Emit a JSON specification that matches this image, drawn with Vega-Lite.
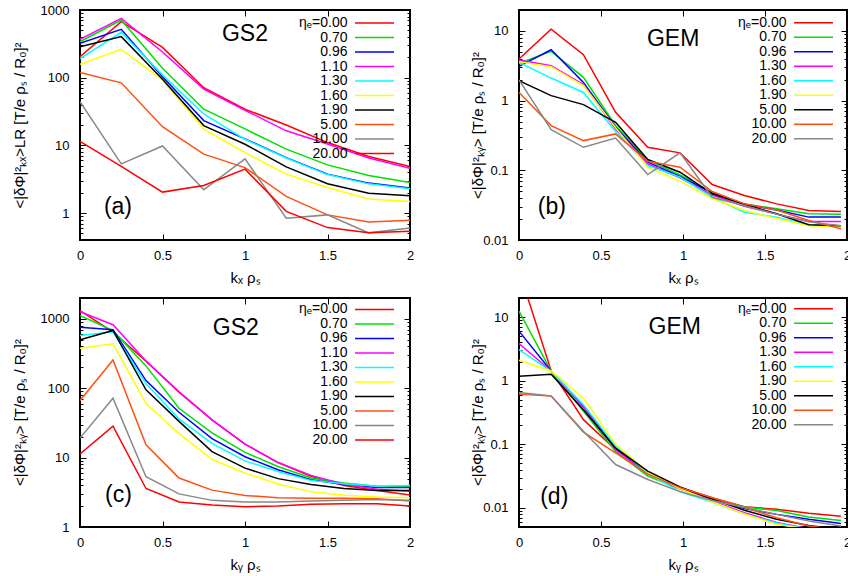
{
"$schema": "https://vega.github.io/schema/vega-lite/v6.json",
"padding": {"left": 11, "top": 3, "right": 0, "bottom": 0},
"columns": 2,
"spacing": {"row": 10, "column": 54},
"config": {
  "font": "Liberation Sans",
  "view": {"stroke": "#000", "strokeWidth": 2},
  "axis": {"labelFontSize": 13, "titleFontSize": 15, "labelColor": "#000", "titleColor": "#000", "tickColor": "#000", "tickWidth": 1, "titleFontWeight": "normal", "grid": false, "domain": false, "labelFlush": false},
  "text": {"font": "Liberation Sans"}
},
"resolve": {"scale": {"color": "independent"}, "legend": {"color": "independent"}},
"datasets": {
"a": [
{"e":"ηₑ=0.00","k":0,"v":204},{"e":"ηₑ=0.00","k":0.25,"v":672},{"e":"ηₑ=0.00","k":0.5,"v":280},{"e":"ηₑ=0.00","k":0.75,"v":71},{"e":"ηₑ=0.00","k":1,"v":34.2},{"e":"ηₑ=0.00","k":1.25,"v":20},{"e":"ηₑ=0.00","k":1.5,"v":11},{"e":"ηₑ=0.00","k":1.75,"v":6.84},{"e":"ηₑ=0.00","k":2,"v":4.87},
{"e":"0.70","k":0,"v":340},{"e":"0.70","k":0.25,"v":711},{"e":"0.70","k":0.5,"v":138},{"e":"0.70","k":0.75,"v":34.2},{"e":"0.70","k":1,"v":17.5},{"e":"0.70","k":1.25,"v":8.8},{"e":"0.70","k":1.5,"v":5.15},{"e":"0.70","k":1.75,"v":3.59},{"e":"0.70","k":2,"v":2.83},
{"e":"0.96","k":0,"v":322},{"e":"0.96","k":0.25,"v":518},{"e":"0.96","k":0.5,"v":103},{"e":"0.96","k":0.75,"v":23.2},{"e":"0.96","k":1,"v":12.5},{"e":"0.96","k":1.25,"v":6.6},{"e":"0.96","k":1.5,"v":3.76},{"e":"0.96","k":1.75,"v":2.77},{"e":"0.96","k":2,"v":2.34},
{"e":"1.10","k":0,"v":368},{"e":"1.10","k":0.25,"v":752},{"e":"1.10","k":0.5,"v":240},{"e":"1.10","k":0.75,"v":68},{"e":"1.10","k":1,"v":33},{"e":"1.10","k":1.25,"v":16.4},{"e":"1.10","k":1.5,"v":10.5},{"e":"1.10","k":1.75,"v":6.5},{"e":"1.10","k":2,"v":4.6},
{"e":"1.30","k":0,"v":191},{"e":"1.30","k":0.25,"v":468},{"e":"1.30","k":0.5,"v":110},{"e":"1.30","k":0.75,"v":29.1},{"e":"1.30","k":1,"v":12.3},{"e":"1.30","k":1.25,"v":6.5},{"e":"1.30","k":1.5,"v":3.7},{"e":"1.30","k":1.75,"v":2.7},{"e":"1.30","k":2,"v":2.28},
{"e":"1.60","k":0,"v":158},{"e":"1.60","k":0.25,"v":262},{"e":"1.60","k":0.5,"v":92},{"e":"1.60","k":0.75,"v":17.3},{"e":"1.60","k":1,"v":7.8},{"e":"1.60","k":1.25,"v":3.76},{"e":"1.60","k":1.5,"v":2.39},{"e":"1.60","k":1.75,"v":1.61},{"e":"1.60","k":2,"v":1.48},
{"e":"1.90","k":0,"v":287},{"e":"1.90","k":0.25,"v":404},{"e":"1.90","k":0.5,"v":95},{"e":"1.90","k":0.75,"v":19.6},{"e":"1.90","k":1,"v":10.4},{"e":"1.90","k":1.25,"v":4.82},{"e":"1.90","k":1.5,"v":2.71},{"e":"1.90","k":1.75,"v":1.97},{"e":"1.90","k":2,"v":1.8},
{"e":"5.00","k":0,"v":119},{"e":"5.00","k":0.25,"v":84},{"e":"5.00","k":0.5,"v":18.9},{"e":"5.00","k":0.75,"v":7.41},{"e":"5.00","k":1,"v":4.7},{"e":"5.00","k":1.25,"v":1.76},{"e":"5.00","k":1.5,"v":0.94},{"e":"5.00","k":1.75,"v":0.74},{"e":"5.00","k":2,"v":0.78},
{"e":"10.00","k":0,"v":44.4},{"e":"10.00","k":0.25,"v":5.34},{"e":"10.00","k":0.5,"v":9.8},{"e":"10.00","k":0.75,"v":2.21},{"e":"10.00","k":1,"v":6.32},{"e":"10.00","k":1.25,"v":0.84},{"e":"10.00","k":1.5,"v":0.94},{"e":"10.00","k":1.75,"v":0.51},{"e":"10.00","k":2,"v":0.6},
{"e":"20.00","k":0,"v":11.5},{"e":"20.00","k":0.25,"v":4.9},{"e":"20.00","k":0.5,"v":2.04},{"e":"20.00","k":0.75,"v":2.56},{"e":"20.00","k":1,"v":4.46},{"e":"20.00","k":1.25,"v":1.06},{"e":"20.00","k":1.5,"v":0.61},{"e":"20.00","k":1.75,"v":0.51},{"e":"20.00","k":2,"v":0.54}
],
"b": [
{"e":"ηₑ=0.00","k":0,"v":3.96},{"e":"ηₑ=0.00","k":0.196,"v":10.6},{"e":"ηₑ=0.00","k":0.393,"v":4.56},{"e":"ηₑ=0.00","k":0.589,"v":0.68},{"e":"ηₑ=0.00","k":0.785,"v":0.214},{"e":"ηₑ=0.00","k":0.982,"v":0.178},{"e":"ηₑ=0.00","k":1.178,"v":0.0626},{"e":"ηₑ=0.00","k":1.374,"v":0.0435},{"e":"ηₑ=0.00","k":1.571,"v":0.033},{"e":"ηₑ=0.00","k":1.767,"v":0.0265},{"e":"ηₑ=0.00","k":1.963,"v":0.0257},
{"e":"0.70","k":0,"v":3.45},{"e":"0.70","k":0.196,"v":5.09},{"e":"0.70","k":0.393,"v":2.16},{"e":"0.70","k":0.589,"v":0.437},{"e":"0.70","k":0.785,"v":0.14},{"e":"0.70","k":0.982,"v":0.086},{"e":"0.70","k":1.178,"v":0.048},{"e":"0.70","k":1.374,"v":0.033},{"e":"0.70","k":1.571,"v":0.028},{"e":"0.70","k":1.767,"v":0.0238},{"e":"0.70","k":1.963,"v":0.0235},
{"e":"0.96","k":0,"v":3.1},{"e":"0.96","k":0.196,"v":5.38},{"e":"0.96","k":0.393,"v":1.83},{"e":"0.96","k":0.589,"v":0.415},{"e":"0.96","k":0.785,"v":0.131},{"e":"0.96","k":0.982,"v":0.082},{"e":"0.96","k":1.178,"v":0.047},{"e":"0.96","k":1.374,"v":0.0325},{"e":"0.96","k":1.571,"v":0.027},{"e":"0.96","k":1.767,"v":0.0213},{"e":"0.96","k":1.963,"v":0.0213},
{"e":"1.30","k":0,"v":3.83},{"e":"1.30","k":0.196,"v":3.17},{"e":"1.30","k":0.393,"v":1.7},{"e":"1.30","k":0.589,"v":0.393},{"e":"1.30","k":0.785,"v":0.124},{"e":"1.30","k":0.982,"v":0.078},{"e":"1.30","k":1.178,"v":0.044},{"e":"1.30","k":1.374,"v":0.0305},{"e":"1.30","k":1.571,"v":0.0235},{"e":"1.30","k":1.767,"v":0.0185},{"e":"1.30","k":1.963,"v":0.0185},
{"e":"1.60","k":0,"v":3.54},{"e":"1.60","k":0.196,"v":2.11},{"e":"1.60","k":0.393,"v":1.31},{"e":"1.60","k":0.589,"v":0.36},{"e":"1.60","k":0.785,"v":0.117},{"e":"1.60","k":0.982,"v":0.08},{"e":"1.60","k":1.178,"v":0.041},{"e":"1.60","k":1.374,"v":0.025},{"e":"1.60","k":1.571,"v":0.0213},{"e":"1.60","k":1.767,"v":0.0164},{"e":"1.60","k":1.963,"v":0.016},
{"e":"1.90","k":0,"v":3.62},{"e":"1.90","k":0.196,"v":3.07},{"e":"1.90","k":0.393,"v":1.64},{"e":"1.90","k":0.589,"v":0.41},{"e":"1.90","k":0.785,"v":0.11},{"e":"1.90","k":0.982,"v":0.07},{"e":"1.90","k":1.178,"v":0.039},{"e":"1.90","k":1.374,"v":0.0265},{"e":"1.90","k":1.571,"v":0.0203},{"e":"1.90","k":1.767,"v":0.016},{"e":"1.90","k":1.963,"v":0.0155},
{"e":"5.00","k":0,"v":1.93},{"e":"5.00","k":0.196,"v":1.18},{"e":"5.00","k":0.393,"v":0.877},{"e":"5.00","k":0.589,"v":0.489},{"e":"5.00","k":0.785,"v":0.143},{"e":"5.00","k":0.982,"v":0.094},{"e":"5.00","k":1.178,"v":0.046},{"e":"5.00","k":1.374,"v":0.0325},{"e":"5.00","k":1.571,"v":0.0238},{"e":"5.00","k":1.767,"v":0.0166},{"e":"5.00","k":1.963,"v":0.016},
{"e":"10.00","k":0,"v":1.31},{"e":"10.00","k":0.196,"v":0.438},{"e":"10.00","k":0.393,"v":0.267},{"e":"10.00","k":0.589,"v":0.333},{"e":"10.00","k":0.785,"v":0.135},{"e":"10.00","k":0.982,"v":0.111},{"e":"10.00","k":1.178,"v":0.0497},{"e":"10.00","k":1.374,"v":0.033},{"e":"10.00","k":1.571,"v":0.027},{"e":"10.00","k":1.767,"v":0.019},{"e":"10.00","k":1.963,"v":0.0145},
{"e":"20.00","k":0,"v":1.98},{"e":"20.00","k":0.196,"v":0.384},{"e":"20.00","k":0.393,"v":0.214},{"e":"20.00","k":0.589,"v":0.291},{"e":"20.00","k":0.785,"v":0.087},{"e":"20.00","k":0.982,"v":0.178},{"e":"20.00","k":1.178,"v":0.041},{"e":"20.00","k":1.374,"v":0.031},{"e":"20.00","k":1.571,"v":0.0235},{"e":"20.00","k":1.767,"v":0.0182},{"e":"20.00","k":1.963,"v":0.016}
],
"c": [
{"e":"ηₑ=0.00","k":0,"v":1318},{"e":"ηₑ=0.00","k":0.2,"v":647},{"e":"ηₑ=0.00","k":0.4,"v":245},{"e":"ηₑ=0.00","k":0.6,"v":88},{"e":"ηₑ=0.00","k":0.8,"v":35},{"e":"ηₑ=0.00","k":1,"v":15.7},{"e":"ηₑ=0.00","k":1.2,"v":8.49},{"e":"ηₑ=0.00","k":1.4,"v":5.4},{"e":"ηₑ=0.00","k":1.6,"v":3.96},{"e":"ηₑ=0.00","k":1.8,"v":3.36},{"e":"ηₑ=0.00","k":2,"v":2.88},
{"e":"0.70","k":0,"v":1117},{"e":"0.70","k":0.2,"v":677},{"e":"0.70","k":0.4,"v":210},{"e":"0.70","k":0.6,"v":51.4},{"e":"0.70","k":0.8,"v":22.7},{"e":"0.70","k":1,"v":11.9},{"e":"0.70","k":1.2,"v":7.45},{"e":"0.70","k":1.4,"v":5.08},{"e":"0.70","k":1.6,"v":4.3},{"e":"0.70","k":1.8,"v":3.87},{"e":"0.70","k":2,"v":3.87},
{"e":"0.96","k":0,"v":755},{"e":"0.96","k":0.2,"v":700},{"e":"0.96","k":0.4,"v":129},{"e":"0.96","k":0.6,"v":45.1},{"e":"0.96","k":0.8,"v":18.8},{"e":"0.96","k":1,"v":10.3},{"e":"0.96","k":1.2,"v":6.68},{"e":"0.96","k":1.4,"v":4.8},{"e":"0.96","k":1.6,"v":4.1},{"e":"0.96","k":1.8,"v":3.7},{"e":"0.96","k":2,"v":3.7},
{"e":"1.10","k":0,"v":1274},{"e":"1.10","k":0.2,"v":824},{"e":"1.10","k":0.4,"v":248},{"e":"1.10","k":0.6,"v":88.9},{"e":"1.10","k":0.8,"v":35.1},{"e":"1.10","k":1,"v":15.7},{"e":"1.10","k":1.2,"v":8.49},{"e":"1.10","k":1.4,"v":5.55},{"e":"1.10","k":1.6,"v":4.15},{"e":"1.10","k":1.8,"v":3.5},{"e":"1.10","k":2,"v":3.28},
{"e":"1.30","k":0,"v":575},{"e":"1.30","k":0.2,"v":650},{"e":"1.30","k":0.4,"v":116},{"e":"1.30","k":0.6,"v":36.2},{"e":"1.30","k":0.8,"v":16},{"e":"1.30","k":1,"v":8.97},{"e":"1.30","k":1.2,"v":6.32},{"e":"1.30","k":1.4,"v":4.7},{"e":"1.30","k":1.6,"v":4.2},{"e":"1.30","k":1.8,"v":3.87},{"e":"1.30","k":2,"v":3.95},
{"e":"1.60","k":0,"v":376},{"e":"1.60","k":0.2,"v":437},{"e":"1.60","k":0.4,"v":60},{"e":"1.60","k":0.6,"v":22.2},{"e":"1.60","k":0.8,"v":9.46},{"e":"1.60","k":1,"v":5.98},{"e":"1.60","k":1.2,"v":4.17},{"e":"1.60","k":1.4,"v":3.21},{"e":"1.60","k":1.6,"v":2.88},{"e":"1.60","k":1.8,"v":2.7},{"e":"1.60","k":2,"v":2.64},
{"e":"1.90","k":0,"v":498},{"e":"1.90","k":0.2,"v":680},{"e":"1.90","k":0.4,"v":95},{"e":"1.90","k":0.6,"v":33.3},{"e":"1.90","k":0.8,"v":12.2},{"e":"1.90","k":1,"v":7.05},{"e":"1.90","k":1.2,"v":4.98},{"e":"1.90","k":1.4,"v":4.09},{"e":"1.90","k":1.6,"v":3.59},{"e":"1.90","k":1.8,"v":3.36},{"e":"1.90","k":2,"v":3.36},
{"e":"5.00","k":0,"v":66.8},{"e":"5.00","k":0.2,"v":256},{"e":"5.00","k":0.4,"v":15.3},{"e":"5.00","k":0.6,"v":5.08},{"e":"5.00","k":0.8,"v":3.4},{"e":"5.00","k":1,"v":2.85},{"e":"5.00","k":1.2,"v":2.64},{"e":"5.00","k":1.4,"v":2.6},{"e":"5.00","k":1.6,"v":2.6},{"e":"5.00","k":1.8,"v":2.55},{"e":"5.00","k":2,"v":2.37},
{"e":"10.00","k":0,"v":19.1},{"e":"10.00","k":0.2,"v":72},{"e":"10.00","k":0.4,"v":5.31},{"e":"10.00","k":0.6,"v":3.0},{"e":"10.00","k":0.8,"v":2.42},{"e":"10.00","k":1,"v":2.29},{"e":"10.00","k":1.2,"v":2.29},{"e":"10.00","k":1.4,"v":2.37},{"e":"10.00","k":1.6,"v":2.42},{"e":"10.00","k":1.8,"v":2.5},{"e":"10.00","k":2,"v":2.42},
{"e":"20.00","k":0,"v":11.3},{"e":"20.00","k":0.2,"v":28.5},{"e":"20.00","k":0.4,"v":3.59},{"e":"20.00","k":0.6,"v":2.29},{"e":"20.00","k":0.8,"v":2.08},{"e":"20.00","k":1,"v":1.96},{"e":"20.00","k":1.2,"v":2.01},{"e":"20.00","k":1.4,"v":2.12},{"e":"20.00","k":1.6,"v":2.17},{"e":"20.00","k":1.8,"v":2.17},{"e":"20.00","k":2,"v":2.01}
],
"d": [
{"e":"ηₑ=0.00","k":0,"v":54},{"e":"ηₑ=0.00","k":0.196,"v":1.44},{"e":"ηₑ=0.00","k":0.393,"v":0.244},{"e":"ηₑ=0.00","k":0.589,"v":0.082},{"e":"ηₑ=0.00","k":0.785,"v":0.036},{"e":"ηₑ=0.00","k":0.982,"v":0.021},{"e":"ηₑ=0.00","k":1.178,"v":0.0144},{"e":"ηₑ=0.00","k":1.374,"v":0.0104},{"e":"ηₑ=0.00","k":1.571,"v":0.0095},{"e":"ηₑ=0.00","k":1.767,"v":0.0082},{"e":"ηₑ=0.00","k":1.963,"v":0.0074},
{"e":"0.70","k":0,"v":12.4},{"e":"0.70","k":0.196,"v":1.42},{"e":"0.70","k":0.393,"v":0.33},{"e":"0.70","k":0.589,"v":0.077},{"e":"0.70","k":0.785,"v":0.0315},{"e":"0.70","k":0.982,"v":0.02},{"e":"0.70","k":1.178,"v":0.0142},{"e":"0.70","k":1.374,"v":0.0103},{"e":"0.70","k":1.571,"v":0.0091},{"e":"0.70","k":1.767,"v":0.0072},{"e":"0.70","k":1.963,"v":0.0063},
{"e":"0.96","k":0,"v":6.03},{"e":"0.96","k":0.196,"v":1.42},{"e":"0.96","k":0.393,"v":0.4},{"e":"0.96","k":0.589,"v":0.087},{"e":"0.96","k":0.785,"v":0.035},{"e":"0.96","k":0.982,"v":0.0205},{"e":"0.96","k":1.178,"v":0.0138},{"e":"0.96","k":1.374,"v":0.0098},{"e":"0.96","k":1.571,"v":0.0079},{"e":"0.96","k":1.767,"v":0.0066},{"e":"0.96","k":1.963,"v":0.0057},
{"e":"1.30","k":0,"v":3.83},{"e":"1.30","k":0.196,"v":1.42},{"e":"1.30","k":0.393,"v":0.384},{"e":"1.30","k":0.589,"v":0.082},{"e":"1.30","k":0.785,"v":0.034},{"e":"1.30","k":0.982,"v":0.0197},{"e":"1.30","k":1.178,"v":0.0128},{"e":"1.30","k":1.374,"v":0.0084},{"e":"1.30","k":1.571,"v":0.0059},{"e":"1.30","k":1.767,"v":0.0047},{"e":"1.30","k":1.963,"v":0.0037},
{"e":"1.60","k":0,"v":3.09},{"e":"1.60","k":0.196,"v":1.4},{"e":"1.60","k":0.393,"v":0.418},{"e":"1.60","k":0.589,"v":0.093},{"e":"1.60","k":0.785,"v":0.035},{"e":"1.60","k":0.982,"v":0.0179},{"e":"1.60","k":1.178,"v":0.0123},{"e":"1.60","k":1.374,"v":0.008},{"e":"1.60","k":1.571,"v":0.0058},{"e":"1.60","k":1.767,"v":0.0046},{"e":"1.60","k":1.963,"v":0.0036},
{"e":"1.90","k":0,"v":2.1},{"e":"1.90","k":0.196,"v":1.42},{"e":"1.90","k":0.393,"v":0.53},{"e":"1.90","k":0.589,"v":0.1},{"e":"1.90","k":0.785,"v":0.0365},{"e":"1.90","k":0.982,"v":0.02},{"e":"1.90","k":1.178,"v":0.0125},{"e":"1.90","k":1.374,"v":0.008},{"e":"1.90","k":1.571,"v":0.0055},{"e":"1.90","k":1.767,"v":0.0046},{"e":"1.90","k":1.963,"v":0.0036},
{"e":"5.00","k":0,"v":1.18},{"e":"5.00","k":0.196,"v":1.26},{"e":"5.00","k":0.393,"v":0.35},{"e":"5.00","k":0.589,"v":0.087},{"e":"5.00","k":0.785,"v":0.0377},{"e":"5.00","k":0.982,"v":0.0214},{"e":"5.00","k":1.178,"v":0.0138},{"e":"5.00","k":1.374,"v":0.0092},{"e":"5.00","k":1.571,"v":0.0066},{"e":"5.00","k":1.767,"v":0.0053},{"e":"5.00","k":1.963,"v":0.0045},
{"e":"10.00","k":0,"v":0.62},{"e":"10.00","k":0.196,"v":0.577},{"e":"10.00","k":0.393,"v":0.155},{"e":"10.00","k":0.589,"v":0.073},{"e":"10.00","k":0.785,"v":0.034},{"e":"10.00","k":0.982,"v":0.0208},{"e":"10.00","k":1.178,"v":0.0144},{"e":"10.00","k":1.374,"v":0.0101},{"e":"10.00","k":1.571,"v":0.007},{"e":"10.00","k":1.767,"v":0.0052},{"e":"10.00","k":1.963,"v":0.0044},
{"e":"20.00","k":0,"v":0.65},{"e":"20.00","k":0.196,"v":0.577},{"e":"20.00","k":0.393,"v":0.16},{"e":"20.00","k":0.589,"v":0.048},{"e":"20.00","k":0.785,"v":0.028},{"e":"20.00","k":0.982,"v":0.018},{"e":"20.00","k":1.178,"v":0.0131},{"e":"20.00","k":1.374,"v":0.0101},{"e":"20.00","k":1.571,"v":0.0079},{"e":"20.00","k":1.767,"v":0.0062},{"e":"20.00","k":1.963,"v":0.0052}
],
"lab_a": [{"t":"GS2"}], "lab_b": [{"t":"GEM"}], "pa": [{"t":"(a)"}], "pb": [{"t":"(b)"}], "pc": [{"t":"(c)"}], "pd": [{"t":"(d)"}]
},
"concat": [
{
 "data": {"name": "a"}, "width": 330, "height": 230,
 "resolve": {"axis": {"x": "independent", "y": "independent"}},
 "layer": [
  {"mark": {"type": "line", "clip": true, "strokeWidth": 1.5},
   "encoding": {
    "x": {"field": "k", "type": "quantitative", "scale": {"domain": [0, 2], "nice": false, "zero": false},
      "axis": {"orient": "bottom", "values": [0, 0.5, 1, 1.5, 2], "format": "~g", "title": "kₓ ρₛ", "tickSize": -6, "labelPadding": 15, "titlePadding": 8}},
    "y": {"field": "v", "type": "quantitative", "scale": {"type": "log", "domain": [0.4, 1000], "nice": false},
      "axis": {"orient": "left", "values": [1, 10, 100, 1000], "format": "~g", "title": "<|δΦ|²ₖₓ>LR [T/e ρₛ / R₀]²", "tickSize": -6, "labelPadding": 17, "titleX": -61, "titleY": 115, "titleAngle": 270, "titleBaseline": "middle", "titleAlign": "center"}},
    "color": {"field": "e", "type": "nominal",
      "scale": {"domain": ["ηₑ=0.00","0.70","0.96","1.10","1.30","1.60","1.90","5.00","10.00","20.00"], "range": ["#ff0000","#00e000","#0000ff","#ff00ff","#00ffff","#ffff00","#000000","#ff5014","#888888","#ff0000"]},
      "legend": {"orient": "none", "legendX": 287.5, "legendY": 6, "title": null, "symbolType": "M-3.9,0H3.9", "symbolSize": 100, "symbolStrokeWidth": 1.5, "labelAlign": "right", "labelOffset": -34, "labelFontSize": 14, "rowPadding": 0.5, "padding": 0}}
   }},
  {"mark": {"type": "point", "opacity": 0, "clip": true},
   "encoding": {
    "x": {"field": "k", "type": "quantitative", "scale": {"domain": [0, 2], "nice": false, "zero": false}, "axis": {"orient": "top", "values": [0, 0.5, 1, 1.5, 2], "labels": false, "title": null, "tickSize": -6, "minExtent": 0, "maxExtent": 0}},
    "y": {"field": "v", "type": "quantitative", "scale": {"type": "log", "domain": [0.4, 1000], "nice": false}, "axis": {"orient": "right", "values": [1, 10, 100, 1000], "labels": false, "title": null, "tickSize": -6, "minExtent": 0, "maxExtent": 0}}
   }},
  {"mark": {"type": "point", "opacity": 0, "clip": true},
   "encoding": {
    "x": {"field": "k", "type": "quantitative", "scale": {"domain": [0, 2], "nice": false, "zero": false}, "axis": null},
    "y": {"field": "v", "type": "quantitative", "scale": {"type": "log", "domain": [0.4, 1000], "nice": false}, "axis": {"orient": "left", "values": [0.5,0.6,0.7,0.8,0.9,2,3,4,5,6,7,8,9,20,30,40,50,60,70,80,90,200,300,400,500,600,700,800,900], "labels": false, "title": null, "tickSize": -3, "minExtent": 0, "maxExtent": 0}}
   }},
  {"mark": {"type": "point", "opacity": 0, "clip": true},
   "encoding": {
    "x": {"field": "k", "type": "quantitative", "scale": {"domain": [0, 2], "nice": false, "zero": false}, "axis": null},
    "y": {"field": "v", "type": "quantitative", "scale": {"type": "log", "domain": [0.4, 1000], "nice": false}, "axis": {"orient": "right", "values": [0.5,0.6,0.7,0.8,0.9,2,3,4,5,6,7,8,9,20,30,40,50,60,70,80,90,200,300,400,500,600,700,800,900], "labels": false, "title": null, "tickSize": -3, "minExtent": 0, "maxExtent": 0}}
   }},
  {"data": {"name": "lab_a"}, "mark": {"type": "text", "fontSize": 23, "baseline": "middle", "align": "center"},
   "encoding": {"text": {"field": "t"},
    "x": {"datum": 1.0, "type": "quantitative", "scale": {"domain": [0, 2], "nice": false, "zero": false}, "axis": null},
    "y": {"datum": 441, "type": "quantitative", "scale": {"type": "log", "domain": [0.4, 1000], "nice": false}, "axis": null}}},
  {"data": {"name": "pa"}, "mark": {"type": "text", "fontSize": 23, "baseline": "middle", "align": "center"},
   "encoding": {"text": {"field": "t"},
    "x": {"datum": 0.23, "type": "quantitative", "scale": {"domain": [0, 2], "nice": false, "zero": false}, "axis": null},
    "y": {"datum": 1.24, "type": "quantitative", "scale": {"type": "log", "domain": [0.4, 1000], "nice": false}, "axis": null}}}
 ]
},
{
 "data": {"name": "b"}, "width": 328, "height": 230,
 "resolve": {"axis": {"x": "independent", "y": "independent"}},
 "layer": [
  {"mark": {"type": "line", "clip": true, "strokeWidth": 1.5},
   "encoding": {
    "x": {"field": "k", "type": "quantitative", "scale": {"domain": [0, 2], "nice": false, "zero": false},
      "axis": {"orient": "bottom", "values": [0, 0.5, 1, 1.5, 2], "format": "~g", "title": "kₓ ρₛ", "tickSize": -6, "labelPadding": 15, "titlePadding": 8}},
    "y": {"field": "v", "type": "quantitative", "scale": {"type": "log", "domain": [0.01, 20], "nice": false},
      "axis": {"orient": "left", "values": [0.01, 0.1, 1, 10], "format": "~g", "title": "<|δΦ|²ₖᵧ> [T/e ρₛ / R₀]²", "tickSize": -6, "labelPadding": 17, "titleX": -42, "titleY": 115, "titleAngle": 270, "titleBaseline": "middle", "titleAlign": "center"}},
    "color": {"field": "e", "type": "nominal",
      "scale": {"domain": ["ηₑ=0.00","0.70","0.96","1.30","1.60","1.90","5.00","10.00","20.00"], "range": ["#ff0000","#00e000","#0000ff","#ff00ff","#00ffff","#ffff00","#000000","#ff5014","#888888"]},
      "legend": {"orient": "none", "legendX": 287.5, "legendY": 5.7, "title": null, "symbolType": "M-3.9,0H3.9", "symbolSize": 100, "symbolStrokeWidth": 1.5, "labelAlign": "right", "labelOffset": -34, "labelFontSize": 14, "rowPadding": 0.5, "padding": 0}}
   }},
  {"mark": {"type": "point", "opacity": 0, "clip": true},
   "encoding": {
    "x": {"field": "k", "type": "quantitative", "scale": {"domain": [0, 2], "nice": false, "zero": false}, "axis": {"orient": "top", "values": [0, 0.5, 1, 1.5, 2], "labels": false, "title": null, "tickSize": -6, "minExtent": 0, "maxExtent": 0}},
    "y": {"field": "v", "type": "quantitative", "scale": {"type": "log", "domain": [0.01, 20], "nice": false}, "axis": {"orient": "right", "values": [0.01, 0.1, 1, 10], "labels": false, "title": null, "tickSize": -6, "minExtent": 0, "maxExtent": 0}}
   }},
  {"mark": {"type": "point", "opacity": 0, "clip": true},
   "encoding": {
    "x": {"field": "k", "type": "quantitative", "scale": {"domain": [0, 2], "nice": false, "zero": false}, "axis": null},
    "y": {"field": "v", "type": "quantitative", "scale": {"type": "log", "domain": [0.01, 20], "nice": false}, "axis": {"orient": "left", "values": [0.02,0.03,0.04,0.05,0.06,0.07,0.08,0.09,0.2,0.3,0.4,0.5,0.6,0.7,0.8,0.9,2,3,4,5,6,7,8,9], "labels": false, "title": null, "tickSize": -3, "minExtent": 0, "maxExtent": 0}}
   }},
  {"mark": {"type": "point", "opacity": 0, "clip": true},
   "encoding": {
    "x": {"field": "k", "type": "quantitative", "scale": {"domain": [0, 2], "nice": false, "zero": false}, "axis": null},
    "y": {"field": "v", "type": "quantitative", "scale": {"type": "log", "domain": [0.01, 20], "nice": false}, "axis": {"orient": "right", "values": [0.02,0.03,0.04,0.05,0.06,0.07,0.08,0.09,0.2,0.3,0.4,0.5,0.6,0.7,0.8,0.9,2,3,4,5,6,7,8,9], "labels": false, "title": null, "tickSize": -3, "minExtent": 0, "maxExtent": 0}}
   }},
  {"data": {"name": "lab_b"}, "mark": {"type": "text", "fontSize": 23, "baseline": "middle", "align": "center"},
   "encoding": {"text": {"field": "t"},
    "x": {"datum": 0.94, "type": "quantitative", "scale": {"domain": [0, 2], "nice": false, "zero": false}, "axis": null},
    "y": {"datum": 7.65, "type": "quantitative", "scale": {"type": "log", "domain": [0.01, 20], "nice": false}, "axis": null}}},
  {"data": {"name": "pb"}, "mark": {"type": "text", "fontSize": 23, "baseline": "middle", "align": "center"},
   "encoding": {"text": {"field": "t"},
    "x": {"datum": 0.2, "type": "quantitative", "scale": {"domain": [0, 2], "nice": false, "zero": false}, "axis": null},
    "y": {"datum": 0.0296, "type": "quantitative", "scale": {"type": "log", "domain": [0.01, 20], "nice": false}, "axis": null}}}
 ]
},
{
 "data": {"name": "c"}, "width": 330, "height": 229,
 "resolve": {"axis": {"x": "independent", "y": "independent"}},
 "layer": [
  {"mark": {"type": "line", "clip": true, "strokeWidth": 1.5},
   "encoding": {
    "x": {"field": "k", "type": "quantitative", "scale": {"domain": [0, 2], "nice": false, "zero": false},
      "axis": {"orient": "bottom", "values": [0, 0.5, 1, 1.5, 2], "format": "~g", "title": "kᵧ ρₛ", "tickSize": -6, "labelPadding": 15, "titlePadding": 8}},
    "y": {"field": "v", "type": "quantitative", "scale": {"type": "log", "domain": [1, 2000], "nice": false},
      "axis": {"orient": "left", "values": [1, 10, 100, 1000], "format": "~g", "title": "<|δΦ|²ₖᵧ> [T/e ρₛ / R₀]²", "tickSize": -6, "labelPadding": 17, "titleX": -61, "titleY": 114, "titleAngle": 270, "titleBaseline": "middle", "titleAlign": "center"}},
    "color": {"field": "e", "type": "nominal",
      "scale": {"domain": ["ηₑ=0.00","0.70","0.96","1.10","1.30","1.60","1.90","5.00","10.00","20.00"], "range": ["#ff0000","#00e000","#0000ff","#ff00ff","#00ffff","#ffff00","#000000","#ff5014","#888888","#ff0000"]},
      "legend": {"orient": "none", "legendX": 287.5, "legendY": 4.4, "title": null, "symbolType": "M-3.9,0H3.9", "symbolSize": 100, "symbolStrokeWidth": 1.5, "labelAlign": "right", "labelOffset": -34, "labelFontSize": 14, "rowPadding": 0.5, "padding": 0}}
   }},
  {"mark": {"type": "point", "opacity": 0, "clip": true},
   "encoding": {
    "x": {"field": "k", "type": "quantitative", "scale": {"domain": [0, 2], "nice": false, "zero": false}, "axis": {"orient": "top", "values": [0, 0.5, 1, 1.5, 2], "labels": false, "title": null, "tickSize": -6, "minExtent": 0, "maxExtent": 0}},
    "y": {"field": "v", "type": "quantitative", "scale": {"type": "log", "domain": [1, 2000], "nice": false}, "axis": {"orient": "right", "values": [1, 10, 100, 1000], "labels": false, "title": null, "tickSize": -6, "minExtent": 0, "maxExtent": 0}}
   }},
  {"mark": {"type": "point", "opacity": 0, "clip": true},
   "encoding": {
    "x": {"field": "k", "type": "quantitative", "scale": {"domain": [0, 2], "nice": false, "zero": false}, "axis": null},
    "y": {"field": "v", "type": "quantitative", "scale": {"type": "log", "domain": [1, 2000], "nice": false}, "axis": {"orient": "left", "values": [2,3,4,5,6,7,8,9,20,30,40,50,60,70,80,90,200,300,400,500,600,700,800,900], "labels": false, "title": null, "tickSize": -3, "minExtent": 0, "maxExtent": 0}}
   }},
  {"mark": {"type": "point", "opacity": 0, "clip": true},
   "encoding": {
    "x": {"field": "k", "type": "quantitative", "scale": {"domain": [0, 2], "nice": false, "zero": false}, "axis": null},
    "y": {"field": "v", "type": "quantitative", "scale": {"type": "log", "domain": [1, 2000], "nice": false}, "axis": {"orient": "right", "values": [2,3,4,5,6,7,8,9,20,30,40,50,60,70,80,90,200,300,400,500,600,700,800,900], "labels": false, "title": null, "tickSize": -3, "minExtent": 0, "maxExtent": 0}}
   }},
  {"data": {"name": "lab_a"}, "mark": {"type": "text", "fontSize": 23, "baseline": "middle", "align": "center"},
   "encoding": {"text": {"field": "t"},
    "x": {"datum": 0.944, "type": "quantitative", "scale": {"domain": [0, 2], "nice": false, "zero": false}, "axis": null},
    "y": {"datum": 750, "type": "quantitative", "scale": {"type": "log", "domain": [1, 2000], "nice": false}, "axis": null}}},
  {"data": {"name": "pc"}, "mark": {"type": "text", "fontSize": 23, "baseline": "middle", "align": "center"},
   "encoding": {"text": {"field": "t"},
    "x": {"datum": 0.233, "type": "quantitative", "scale": {"domain": [0, 2], "nice": false, "zero": false}, "axis": null},
    "y": {"datum": 2.9, "type": "quantitative", "scale": {"type": "log", "domain": [1, 2000], "nice": false}, "axis": null}}}
 ]
},
{
 "data": {"name": "d"}, "width": 328, "height": 229,
 "resolve": {"axis": {"x": "independent", "y": "independent"}},
 "layer": [
  {"mark": {"type": "line", "clip": true, "strokeWidth": 1.5},
   "encoding": {
    "x": {"field": "k", "type": "quantitative", "scale": {"domain": [0, 2], "nice": false, "zero": false},
      "axis": {"orient": "bottom", "values": [0, 0.5, 1, 1.5, 2], "format": "~g", "title": "kᵧ ρₛ", "tickSize": -6, "labelPadding": 15, "titlePadding": 8}},
    "y": {"field": "v", "type": "quantitative", "scale": {"type": "log", "domain": [0.005, 20], "nice": false},
      "axis": {"orient": "left", "values": [0.01, 0.1, 1, 10], "format": "~g", "title": "<|δΦ|²ₖᵧ> [T/e ρₛ / R₀]²", "tickSize": -6, "labelPadding": 17, "titleX": -42, "titleY": 114, "titleAngle": 270, "titleBaseline": "middle", "titleAlign": "center"}},
    "color": {"field": "e", "type": "nominal",
      "scale": {"domain": ["ηₑ=0.00","0.70","0.96","1.30","1.60","1.90","5.00","10.00","20.00"], "range": ["#ff0000","#00e000","#0000ff","#ff00ff","#00ffff","#ffff00","#000000","#ff5014","#888888"]},
      "legend": {"orient": "none", "legendX": 287.5, "legendY": 3.7, "title": null, "symbolType": "M-3.9,0H3.9", "symbolSize": 100, "symbolStrokeWidth": 1.5, "labelAlign": "right", "labelOffset": -34, "labelFontSize": 14, "rowPadding": 0.5, "padding": 0}}
   }},
  {"mark": {"type": "point", "opacity": 0, "clip": true},
   "encoding": {
    "x": {"field": "k", "type": "quantitative", "scale": {"domain": [0, 2], "nice": false, "zero": false}, "axis": {"orient": "top", "values": [0, 0.5, 1, 1.5, 2], "labels": false, "title": null, "tickSize": -6, "minExtent": 0, "maxExtent": 0}},
    "y": {"field": "v", "type": "quantitative", "scale": {"type": "log", "domain": [0.005, 20], "nice": false}, "axis": {"orient": "right", "values": [0.01, 0.1, 1, 10], "labels": false, "title": null, "tickSize": -6, "minExtent": 0, "maxExtent": 0}}
   }},
  {"mark": {"type": "point", "opacity": 0, "clip": true},
   "encoding": {
    "x": {"field": "k", "type": "quantitative", "scale": {"domain": [0, 2], "nice": false, "zero": false}, "axis": null},
    "y": {"field": "v", "type": "quantitative", "scale": {"type": "log", "domain": [0.005, 20], "nice": false}, "axis": {"orient": "left", "values": [0.006,0.007,0.008,0.009,0.02,0.03,0.04,0.05,0.06,0.07,0.08,0.09,0.2,0.3,0.4,0.5,0.6,0.7,0.8,0.9,2,3,4,5,6,7,8,9], "labels": false, "title": null, "tickSize": -3, "minExtent": 0, "maxExtent": 0}}
   }},
  {"mark": {"type": "point", "opacity": 0, "clip": true},
   "encoding": {
    "x": {"field": "k", "type": "quantitative", "scale": {"domain": [0, 2], "nice": false, "zero": false}, "axis": null},
    "y": {"field": "v", "type": "quantitative", "scale": {"type": "log", "domain": [0.005, 20], "nice": false}, "axis": {"orient": "right", "values": [0.006,0.007,0.008,0.009,0.02,0.03,0.04,0.05,0.06,0.07,0.08,0.09,0.2,0.3,0.4,0.5,0.6,0.7,0.8,0.9,2,3,4,5,6,7,8,9], "labels": false, "title": null, "tickSize": -3, "minExtent": 0, "maxExtent": 0}}
   }},
  {"data": {"name": "lab_b"}, "mark": {"type": "text", "fontSize": 23, "baseline": "middle", "align": "center"},
   "encoding": {"text": {"field": "t"},
    "x": {"datum": 0.95, "type": "quantitative", "scale": {"domain": [0, 2], "nice": false, "zero": false}, "axis": null},
    "y": {"datum": 7.08, "type": "quantitative", "scale": {"type": "log", "domain": [0.005, 20], "nice": false}, "axis": null}}},
  {"data": {"name": "pd"}, "mark": {"type": "text", "fontSize": 23, "baseline": "middle", "align": "center"},
   "encoding": {"text": {"field": "t"},
    "x": {"datum": 0.215, "type": "quantitative", "scale": {"domain": [0, 2], "nice": false, "zero": false}, "axis": null},
    "y": {"datum": 0.0146, "type": "quantitative", "scale": {"type": "log", "domain": [0.005, 20], "nice": false}, "axis": null}}}
 ]
}
]
}
